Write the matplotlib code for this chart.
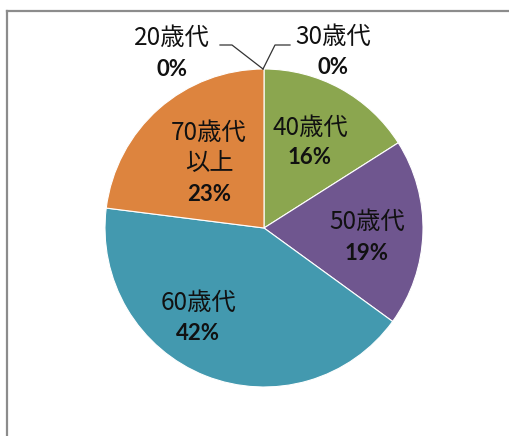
import matplotlib
matplotlib.use("Agg")
import matplotlib.pyplot as plt
from matplotlib.lines import Line2D

plt.rcParams['font.family'] = ['Noto Sans CJK JP', 'DejaVu Sans']

# datos (orden horario desde arriba)
categorias = ['20歳代', '30歳代', '40歳代', '50歳代', '60歳代', '70歳代\n以上']
valores = [0, 0, 16, 19, 42, 23]
colores = ['#DD843E', '#8BA64F', '#8BA64F', '#6F568F', '#4399AF', '#DD843E']

W, H = 509, 436
fig = plt.figure(figsize=(W / 100, H / 100), dpi=100)
ax = fig.add_axes([0, 0, 1, 1])
ax.set_xlim(0, W)
ax.set_ylim(0, H)
ax.set_aspect('equal')
ax.axis('off')

cx, cy, r = 264, H - 228, 159
wedges, _ = ax.pie(valores, colors=colores, startangle=90, counterclock=False,
                   center=(cx, cy), radius=r,
                   wedgeprops=dict(edgecolor='white', linewidth=0.8))
ax.set_xlim(0, W)
ax.set_ylim(0, H)

# posiciones de las etiquetas (pixeles, y desde arriba)
pos_label = [(172, 38), (333, 37), (310, 128), (367, 222), (198, 303), (209, 148)]
pos_pct = [(172, 69), (333, 67), (310, 157), (367, 253), (198, 333), (209, 195)]

total = sum(valores)
for cat, val, (lx, ly), (px, py) in zip(categorias, valores, pos_label, pos_pct):
    ax.text(lx, H - ly, cat, ha='center', va='center', fontsize=17.5,
            color='#111111', linespacing=1.2)
    ax.text(px, H - py, f"{round(100 * val / total)}%", ha='center', va='center',
            fontsize=16, fontweight='bold', color='#111111', family='Lato')

# lineas guia para las categorias con 0%
ax.plot([220, 232, 263], [H - 45, H - 45, H - 69], color='#333333', lw=0.9)
ax.plot([263, 275, 290], [H - 69, H - 45, H - 45], color='#333333', lw=0.9)

# marco del grafico
fig.add_artist(Line2D([7 / W, 1], [1 - 11 / H, 1 - 11 / H], color='#8c8c8c', lw=1.6))
fig.add_artist(Line2D([7 / W, 7 / W], [0, 1 - 11 / H], color='#8c8c8c', lw=1.6))

fig.savefig('out.png', dpi=100, facecolor='white')
